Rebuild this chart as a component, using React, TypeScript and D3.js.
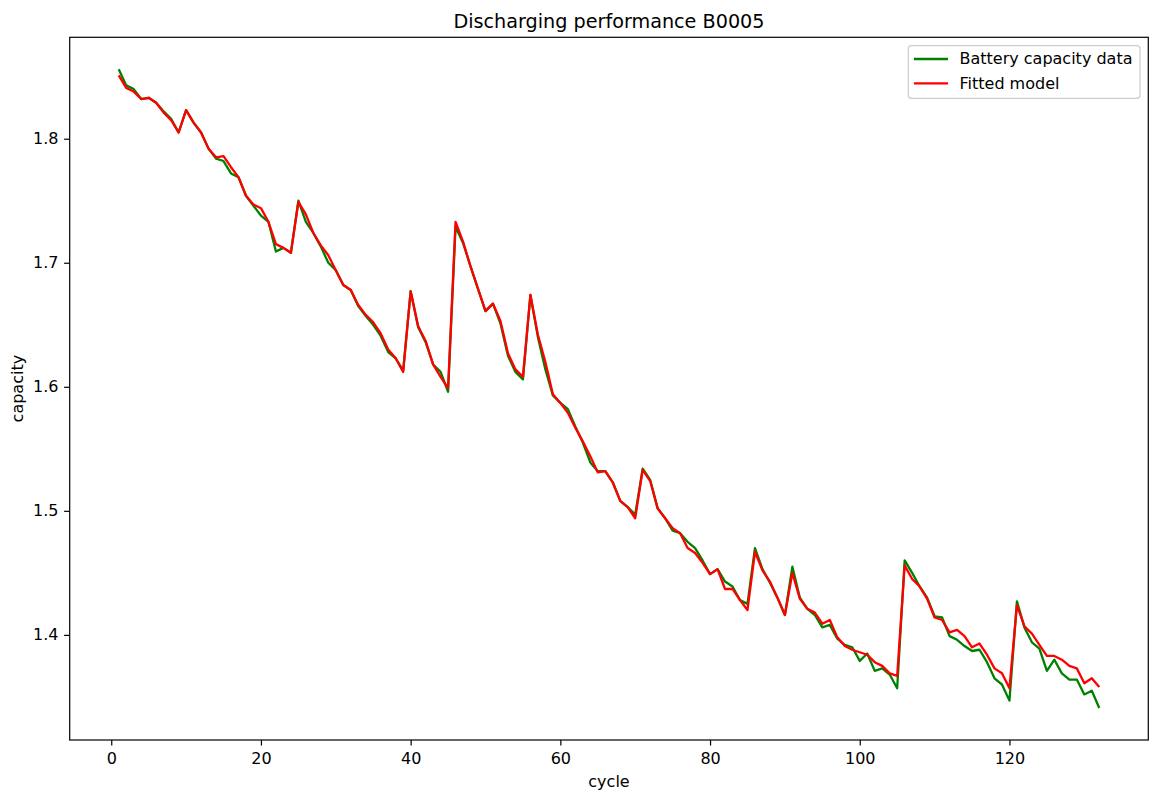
import React, { useEffect, useRef } from "react";
import * as d3 from "d3";

// Measured discharge capacity per cycle (Ah), battery B0005
const capacityData: number[] = [
  1.856, 1.843, 1.840, 1.832, 1.833, 1.829, 1.822, 1.816, 1.805, 1.823,
  1.813, 1.805, 1.792, 1.784, 1.782, 1.772, 1.769, 1.754, 1.746, 1.738,
  1.733, 1.709, 1.712, 1.708, 1.750, 1.733, 1.724, 1.713, 1.700, 1.694,
  1.682, 1.678, 1.665, 1.657, 1.650, 1.641, 1.628, 1.623, 1.613, 1.677,
  1.648, 1.636, 1.618, 1.612, 1.596, 1.729, 1.716, 1.697, 1.679, 1.661,
  1.667, 1.651, 1.625, 1.612, 1.606, 1.674, 1.640, 1.614, 1.593, 1.587,
  1.582, 1.568, 1.555, 1.539, 1.532, 1.532, 1.523, 1.508, 1.503, 1.497,
  1.534, 1.525, 1.502, 1.494, 1.484, 1.482, 1.475, 1.470, 1.460, 1.449,
  1.453, 1.443, 1.439, 1.428, 1.425, 1.470, 1.453, 1.442, 1.430, 1.416,
  1.455, 1.430, 1.421, 1.416, 1.406, 1.408, 1.397, 1.392, 1.390, 1.379,
  1.385, 1.371, 1.373, 1.368, 1.357, 1.460, 1.450, 1.439, 1.430, 1.415,
  1.414, 1.399, 1.396, 1.391, 1.387, 1.388, 1.378, 1.365, 1.360, 1.347,
  1.427, 1.406, 1.394, 1.389, 1.371, 1.380, 1.369, 1.364, 1.364, 1.352,
  1.355, 1.341,
];

// Model prediction per cycle
const fittedModel: number[] = [
  1.851, 1.841, 1.838, 1.832, 1.833, 1.829, 1.821, 1.815, 1.805, 1.823,
  1.813, 1.805, 1.792, 1.785, 1.786, 1.777, 1.769, 1.754, 1.747, 1.744,
  1.733, 1.715, 1.712, 1.708, 1.749, 1.739, 1.724, 1.714, 1.706, 1.694,
  1.682, 1.678, 1.666, 1.658, 1.652, 1.643, 1.630, 1.623, 1.612, 1.677,
  1.649, 1.637, 1.618, 1.608, 1.599, 1.733, 1.717, 1.697, 1.679, 1.661,
  1.667, 1.653, 1.627, 1.614, 1.608, 1.674, 1.642, 1.620, 1.594, 1.587,
  1.579, 1.567, 1.556, 1.544, 1.531, 1.532, 1.523, 1.508, 1.503, 1.494,
  1.533, 1.524, 1.502, 1.494, 1.486, 1.482, 1.470, 1.466, 1.458, 1.449,
  1.453, 1.437, 1.437, 1.428, 1.420, 1.467, 1.452, 1.443, 1.430, 1.416,
  1.450, 1.429, 1.421, 1.418, 1.409, 1.412, 1.398, 1.391, 1.388, 1.386,
  1.384, 1.378, 1.375, 1.369, 1.367, 1.456, 1.445, 1.439, 1.429, 1.414,
  1.412, 1.402, 1.404, 1.399, 1.390, 1.393, 1.384, 1.373, 1.369, 1.357,
  1.424, 1.407, 1.401, 1.392, 1.383, 1.383, 1.380, 1.375, 1.373, 1.361,
  1.365, 1.358,
];

const cycles: number[] = capacityData.map((_, i) => i + 1);

const xTicks: number[] = [0, 20, 40, 60, 80, 100, 120];
const yTicks: number[] = [1.4, 1.5, 1.6, 1.7, 1.8];

const seriesNames: string[] = ["Battery capacity data", "Fitted model"];
const seriesColors: string[] = ["#008000", "#ff0000"];

const W = 1152;
const H = 794;
const FONT = "'DejaVu Sans', 'Liberation Sans', sans-serif";
const plot = { left: 69.7, top: 37.3, right: 1148.3, bottom: 740 };

export default function App() {
  const ref = useRef<SVGSVGElement | null>(null);

  useEffect(() => {
    const svg = d3.select(ref.current);
    svg.selectAll("*").remove();

    // Axis limits with a 5% margin on each side of the data
    const xMin = d3.min(cycles)!;
    const xMax = d3.max(cycles)!;
    const xPad = (xMax - xMin) * 0.05;
    const all = capacityData.concat(fittedModel);
    const yMin = d3.min(all)!;
    const yMax = d3.max(all)!;
    const yPad = (yMax - yMin) * 0.05;

    const x = d3
      .scaleLinear()
      .domain([xMin - xPad, xMax + xPad])
      .range([plot.left, plot.right]);
    const y = d3
      .scaleLinear()
      .domain([yMin - yPad, yMax + yPad])
      .range([plot.bottom, plot.top]);

    svg
      .append("rect")
      .attr("x", 0)
      .attr("y", 0)
      .attr("width", W)
      .attr("height", H)
      .attr("fill", "#ffffff");

    // Series lines
    const series = [capacityData, fittedModel];
    series.forEach((vals, si) => {
      const line = d3
        .line<number>()
        .x((_, i) => x(cycles[i]))
        .y((v) => y(v));
      svg
        .append("path")
        .datum(vals)
        .attr("d", line)
        .attr("fill", "none")
        .attr("stroke", seriesColors[si])
        .attr("stroke-width", 2.3)
        .attr("stroke-linejoin", "round")
        .attr("stroke-linecap", "butt");
    });

    // Axes
    const tickLen = 5.6;
    const xAxis = d3
      .axisBottom(x)
      .tickValues(xTicks)
      .tickFormat(d3.format("d"))
      .tickSize(tickLen)
      .tickSizeOuter(0)
      .tickPadding(7.3);
    const gx = svg
      .append("g")
      .attr("transform", `translate(0,${plot.bottom})`)
      .call(xAxis);
    gx.select(".domain").remove();

    const yAxis = d3
      .axisLeft(y)
      .tickValues(yTicks)
      .tickFormat(d3.format(".1f"))
      .tickSize(tickLen)
      .tickSizeOuter(0)
      .tickPadding(5.6);
    const gy = svg
      .append("g")
      .attr("transform", `translate(${plot.left},0)`)
      .call(yAxis);
    gy.select(".domain").remove();

    [gx, gy].forEach((g) => {
      g.selectAll("line").attr("stroke", "#000").attr("stroke-width", 1.2);
      g.selectAll("text")
        .attr("fill", "#000")
        .style("font-family", FONT)
        .style("font-size", "16px");
    });

    // Frame
    svg
      .append("rect")
      .attr("x", plot.left)
      .attr("y", plot.top)
      .attr("width", plot.right - plot.left)
      .attr("height", plot.bottom - plot.top)
      .attr("fill", "none")
      .attr("stroke", "#000")
      .attr("stroke-width", 1.2);

    // Title and axis labels
    svg
      .append("text")
      .attr("x", (plot.left + plot.right) / 2)
      .attr("y", 27.7)
      .attr("text-anchor", "middle")
      .style("font-family", FONT)
      .style("font-size", "19.2px")
      .text("Discharging performance B0005");

    svg
      .append("text")
      .attr("x", (plot.left + plot.right) / 2)
      .attr("y", 786.5)
      .attr("text-anchor", "middle")
      .style("font-family", FONT)
      .style("font-size", "16px")
      .text("cycle");

    svg
      .append("text")
      .attr(
        "transform",
        `translate(23,${(plot.top + plot.bottom) / 2}) rotate(-90)`
      )
      .attr("text-anchor", "middle")
      .style("font-family", FONT)
      .style("font-size", "16px")
      .text("capacity");

    // Legend
    const lg = svg.append("g");
    lg.append("rect")
      .attr("x", 908.3)
      .attr("y", 45.7)
      .attr("width", 1140 - 908.3)
      .attr("height", 98.3 - 45.7)
      .attr("rx", 3)
      .attr("fill", "#ffffff")
      .attr("fill-opacity", 0.8)
      .attr("stroke", "#cccccc")
      .attr("stroke-width", 1.2);
    seriesNames.forEach((name, i) => {
      const cy = 59 + i * 24.3;
      lg.append("line")
        .attr("x1", 914)
        .attr("x2", 948)
        .attr("y1", cy)
        .attr("y2", cy)
        .attr("stroke", seriesColors[i])
        .attr("stroke-width", 2.3);
      lg.append("text")
        .attr("x", 959.5)
        .attr("y", cy + 5.4)
        .style("font-family", FONT)
        .style("font-size", "16px")
        .attr("fill", "#000")
        .text(name);
    });
  }, []);

  return (
    <svg
      ref={ref}
      width={W}
      height={H}
      style={{ position: "absolute", left: 0, top: 0, display: "block" }}
    />
  );
}
